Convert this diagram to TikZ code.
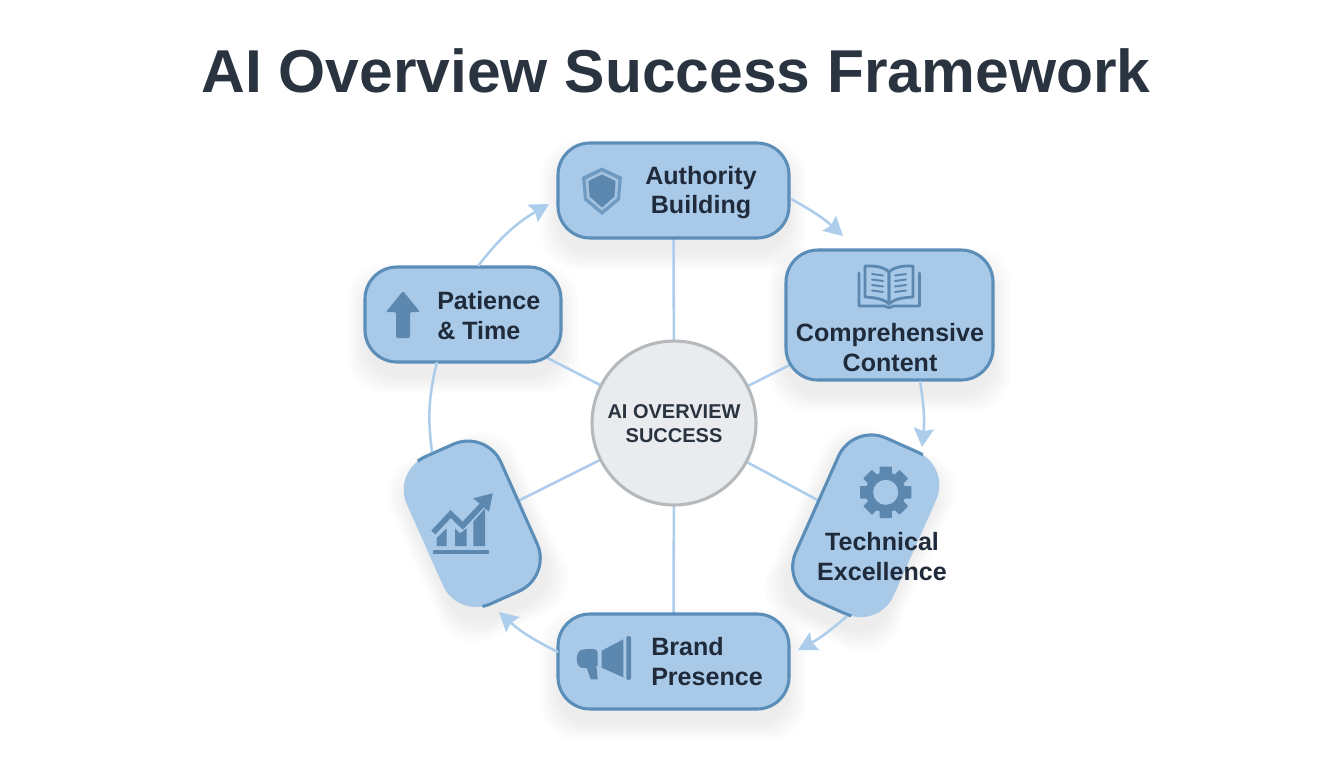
\documentclass[tikz,border=0pt]{standalone}
\usepackage{fontspec}
\setmainfont{Liberation Sans}
\usetikzlibrary{arrows.meta,backgrounds,calc}
\definecolor{boxfill}{HTML}{A9C9E8}
\definecolor{boxline}{HTML}{5B8DB9}
\definecolor{iconc}{HTML}{5C88B0}
\definecolor{iconl}{HTML}{6F9AC2}
\definecolor{iconr}{HTML}{A3C2E0}
\definecolor{linkc}{HTML}{ADCDEC}
\definecolor{inkc}{HTML}{1F2B3A}
\definecolor{titlec}{HTML}{2A3440}
\definecolor{hubfill}{HTML}{E9EBEE}
\definecolor{hubline}{HTML}{B5B9BC}
\newcommand{\pxu}{0.75pt}
\newcommand{\softshadow}[3]{%
  \foreach \g in {17,14,11,8,5,2}{%
    \fill[black,opacity=0.011,rounded corners=36*\pxu]
      ($(#1)+(-#2/2-\g,-#3/2-\g+14)$) rectangle ($(#1)+(#2/2+\g,#3/2+\g+14)$);
  }}
\tikzset{
  card/.style={draw=boxline,line width=2.3pt,fill=boxfill,rounded corners=32*\pxu,inner sep=0pt,outer sep=0pt},
  tiltcard/.style={fill=boxfill,rounded corners=36*\pxu,inner sep=0pt,outer sep=0pt},
  edgeline/.style={draw=boxline,line width=2.3pt,rounded corners=36*\pxu},
  hubnode/.style={circle,draw=hubline,line width=2.3pt,fill=hubfill,minimum size=164*\pxu,inner sep=0pt,outer sep=0pt},
  label/.style={text=inkc,font=\fontsize{18.8pt}{21.8pt}\selectfont\bfseries,inner sep=0pt},
  spoke/.style={draw=linkc,line width=1.9pt},
  flow/.style={draw=linkc,line width=1.9pt,-{Stealth[length=14pt,width=15pt,inset=2pt]}},
  ring/.style={draw=linkc,line width=1.9pt},
  iconfill/.style={fill=iconc,draw=none},
  iconline/.style={draw=iconc,line width=2.1pt,line join=round,line cap=round}
}
\begin{document}
\begin{tikzpicture}[x=0.75pt,y=-0.75pt]
\useasboundingbox (0,0) rectangle (1344,768);

\node[text=titlec,font=\fontsize{45.4pt}{50pt}\selectfont\bfseries,inner sep=0pt] (title) at (676,71) {AI Overview Success Framework};

% main nodes
\node[card,minimum width=231*\pxu,minimum height=95*\pxu] (auth) at (673.5,190.5) {};
\node[card,minimum width=207*\pxu,minimum height=130*\pxu] (comp) at (889.5,315) {};
\node[card,minimum width=196*\pxu,minimum height=95*\pxu] (pat) at (463,314.5) {};
\node[card,minimum width=231*\pxu,minimum height=95*\pxu] (brand) at (673.5,661.5) {};
\node[tiltcard,rotate=-24,minimum width=107*\pxu,minimum height=177*\pxu] (tech) at (866,526) {};
\node[tiltcard,rotate=24,minimum width=103*\pxu,minimum height=161*\pxu] (stats) at (472,524) {};
\node[hubnode] (hub) at (674,423) {};

% partial outlines of the tilted cards
\begin{scope}[shift={(866,526)},rotate=-24]
  \begin{scope}
    \clip (-70,-100) rectangle (23,100);
    \draw[edgeline] (-53.5,-88.5) rectangle (53.5,88.5);
  \end{scope}
\end{scope}
\begin{scope}[shift={(472,524)},rotate=24]
  \begin{scope}
    \clip (-24,-100) rectangle (70,100);
    \draw[edgeline] (-51.5,-80.5) rectangle (51.5,80.5);
  \end{scope}
\end{scope}

% connector ends on the ring
\coordinate (p1) at (478,266);
\coordinate (p2) at (549,204);
\coordinate (a1) at (791,199);
\coordinate (a2) at (843,236);
\coordinate (c1) at (920,381);
\coordinate (c2) at (922,447);
\coordinate (t1) at (847,616);
\coordinate (t2) at (798,650);
\coordinate (b1) at (558,652);
\coordinate (b2) at (499,612);
\coordinate (s1) at (432,452);
\coordinate (s2) at (437,362);

\begin{scope}[on background layer]
  \fill[white] (0,0) rectangle (1344,768);
  \softshadow{673.5,190.5}{231}{95}
  \softshadow{889.5,315}{207}{130}
  \softshadow{463,314.5}{196}{95}
  \softshadow{673.5,661.5}{231}{95}
  \begin{scope}[shift={(866,526)},rotate=-24]\softshadow{0,0}{107}{177}\end{scope}
  \begin{scope}[shift={(472,524)},rotate=24]\softshadow{0,0}{103}{161}\end{scope}
  \draw[spoke] (hub.center) -- (auth.center);
  \draw[spoke] (hub.center) -- (comp.center);
  \draw[spoke] (hub.center) -- (tech.center);
  \draw[spoke] (hub.center) -- (brand.center);
  \draw[spoke] (hub.center) -- (stats.center);
  \draw[spoke] (hub.center) -- (pat.center);
\end{scope}

\draw[flow] (p1) to[bend left=11] (p2);
\draw[flow] (a1) to[bend left=7] (a2);
\draw[flow] (c1) to[bend left=7.6] (c2);
\draw[flow] (t1) to[bend left=6.6] (t2);
\draw[flow] (b1) to[bend left=8] (b2);
\draw[ring] (s1) to[bend left=10.6] (s2);

% labels
\node[label,align=center] (authtext) at (701,192.5) {Authority\\Building};
\node[label,align=center] (comptext) at (890,347.5) {Comprehensive\\Content};
\node[label,align=left,anchor=west] (pattext) at (437,315.5) {Patience\\\& Time};
\node[label,align=left,anchor=west] (brandtext) at (651,661.5) {Brand\\Presence};
\node[label,align=center] (techtext) at (882,556.5) {Technical\\Excellence};
\node[text=titlec,font=\fontsize{15pt}{17.5pt}\selectfont,align=center,inner sep=0pt] (hubtext) at (674,423.5) {\textbf{AI OVERVIEW}\\\textbf{SUCCESS}};

% shield
\fill[iconl] (602,167.5) -- (622,177) -- (620,200) -- (602,215) -- (584,200) -- (582,177) -- cycle;
\fill[iconr] (602,171.5) -- (618.5,179.5) -- (617,198) -- (602,210.5) -- (587,198) -- (585.5,179.5) -- cycle;
\fill[iconc] (602,174.5) -- (615.5,181) -- (614.5,196.5) -- (602,207.5) -- (589.5,196.5) -- (588.5,181) -- cycle;

% up arrow
\fill[iconc,rounded corners=1pt] (403,291) -- (420,312) -- (410,312) -- (410,338) -- (396,338) -- (396,312) -- (386,312) -- cycle;

% book
\begin{scope}
  \draw[iconline] (859,273) -- (859,306) -- (885,306) .. controls (887,308) and (891,308) .. (893,306) -- (919.5,306) -- (919.5,273);
  \draw[iconline] (865,266) .. controls (875,265.5) and (884,267) .. (889,272) -- (889,304) .. controls (884,299) and (875,297.5) .. (865,297) -- cycle;
  \draw[iconline] (913,266) .. controls (903,265.5) and (894,267) .. (889,272) -- (889,304) .. controls (894,299) and (903,297.5) .. (913,297) -- cycle;
  \foreach \yy in {274,279.5,285,290.5}{
    \draw[iconline,line width=1.5pt] (872,\yy) -- (883,\yy+1.5);
    \draw[iconline,line width=1.5pt] (906,\yy) -- (895,\yy+1.5);
  }
\end{scope}

% gear
\begin{scope}[shift={(885.7,492.3)}]
  \fill[iconc] (0,0) circle (20);
  \foreach \aa in {0,45,...,315}{
    \begin{scope}[rotate=\aa]
      \fill[iconc,rounded corners=0.6pt] (-6.2,-25.7) rectangle (6.2,-15);
    \end{scope}
  }
  \fill[boxfill] (0,0) circle (12.5);
\end{scope}

% rising chart
\fill[iconc] (432.7,549.5) rectangle (489,553.6);
\fill[iconc] (436.7,546) -- (436.7,538) -- (446.7,528.3) -- (446.7,546) -- cycle;
\fill[iconc] (455,546) -- (455,528.3) -- (460,533.5) -- (466.7,528.3) -- (466.7,546) -- cycle;
\fill[iconc] (473.3,546) -- (473.3,521.7) -- (485,508.3) -- (485,546) -- cycle;
\draw[iconc,line width=4.2pt,line join=miter] (433.3,532.5) -- (450.7,514) -- (462.7,525.7) -- (485,502);
\fill[iconc] (473.3,498.3) -- (492.7,493.3) -- (489,511.7) -- cycle;

% megaphone
\fill[iconc,rounded corners=1.2pt] (626.3,636) rectangle (631,680);
\fill[iconc] (601.7,650.7) -- (623.3,639.3) -- (623.3,677.3) -- (601.7,667.7) -- cycle;
\fill[iconc,rounded corners=3pt] (597.7,649) -- (586,649) .. controls (575,651) and (575,667) .. (586,668.3) -- (597.7,668.3) -- cycle;
\fill[iconc] (586.7,668) -- (596.7,668) -- (597.7,679.3) -- (590.7,679.3) -- cycle;
\end{tikzpicture}
\end{document}
